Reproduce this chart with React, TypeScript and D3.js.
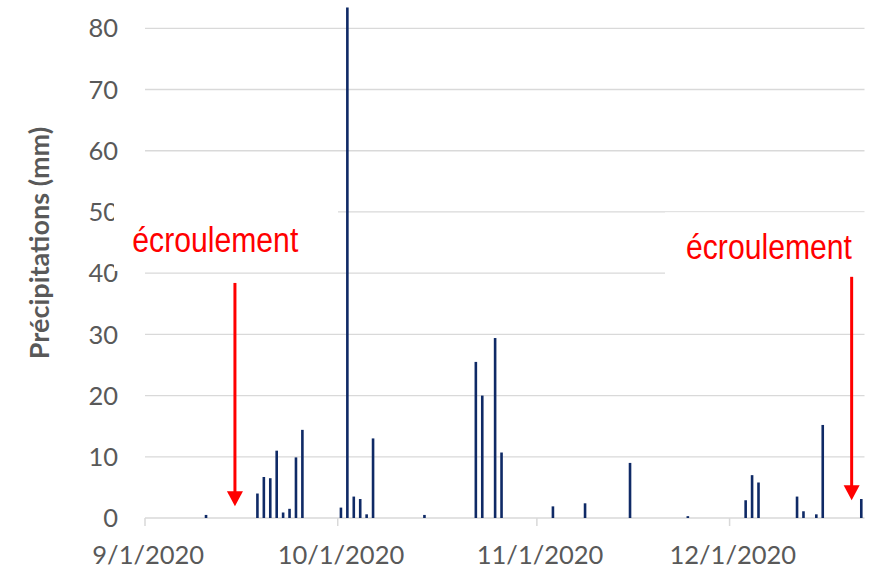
import React, { useEffect, useRef } from 'react';
import * as d3 from 'd3';

// daily rainfall (mm); days without rain are left out
const rainDates = [
    '2020-09-10', '2020-09-18', '2020-09-19', '2020-09-20', '2020-09-21', '2020-09-22',
    '2020-09-23', '2020-09-24', '2020-09-25', '2020-10-01', '2020-10-02', '2020-10-03',
    '2020-10-04', '2020-10-05', '2020-10-06', '2020-10-14', '2020-10-22', '2020-10-23',
    '2020-10-25', '2020-10-26', '2020-11-03', '2020-11-08', '2020-11-15', '2020-11-24',
    '2020-12-03', '2020-12-04', '2020-12-05', '2020-12-11', '2020-12-12', '2020-12-14',
    '2020-12-15', '2020-12-21',
];
const rainMm = [
    0.5, 4.0, 6.7, 6.5, 11.0, 0.9,
    1.5, 9.9, 14.4, 1.7, 83.4, 3.5,
    3.1, 0.6, 13.0, 0.5, 25.5, 20.0,
    29.4, 10.7, 1.9, 2.4, 9.0, 0.3,
    2.9, 7.0, 5.8, 3.5, 1.1, 0.6,
    15.2, 3.1,
];
const yTicks = [0, 10, 20, 30, 40, 50, 60, 70, 80];
const dateRange = ['2020-09-01', '2020-12-22'];

// collapse annotations: arrow x (day), top and tip value, label
const collapseDays = ['2020-09-15', '2020-12-20'];
const collapseTop = [38.4, 39.4];
const collapseTip = [1.9, 2.9];
const collapseLabel = ['écroulement', 'écroulement'];

const parse = (s: string) => new Date(s + 'T00:00:00Z');

const App = () => {
    const chartRef = useRef<HTMLDivElement>(null);

    useEffect(() => {
        const width = 869;
        const height = 569;
        const grey = '#595959';
        const tickFont = 'Lato, "Open Sans", sans-serif';

        const x = d3.scaleUtc()
            .domain(dateRange.map(parse))
            .range([145, 864.5]);
        const y = d3.scaleLinear()
            .domain([0, 80])
            .range([518, 28.3]);
        const day = x(parse('2020-09-02')) - x(parse('2020-09-01'));

        const svg = d3.select(chartRef.current)
            .append('svg')
            .attr('width', width)
            .attr('height', height)
            .style('position', 'absolute')
            .style('left', 0)
            .style('top', 0)
            .style('background', '#fff');

        // gridlines
        svg.append('g')
            .selectAll('line')
            .data(yTicks.filter((t) => t > 0))
            .enter()
            .append('line')
            .attr('x1', 145)
            .attr('x2', 864.5)
            .attr('y1', (d) => y(d))
            .attr('y2', (d) => y(d))
            .attr('stroke', '#d9d9d9')
            .attr('stroke-width', 1.3);

        // y labels
        svg.append('g')
            .selectAll('text')
            .data(yTicks)
            .enter()
            .append('text')
            .attr('x', 118)
            .attr('y', (d) => y(d))
            .attr('dy', '0.36em')
            .attr('text-anchor', 'end')
            .attr('font-family', tickFont)
            .attr('font-size', 25.5)
            .attr('fill', grey)
            .text((d) => d);

        // x axis: line, month ticks, labels centred on the day
        const months = d3.utcMonth.range(parse(dateRange[0]), parse(dateRange[1]));
        const xAxis = svg.append('g');
        xAxis.append('line')
            .attr('x1', 145)
            .attr('x2', 864.5)
            .attr('y1', y(0))
            .attr('y2', y(0))
            .attr('stroke', '#d9d9d9')
            .attr('stroke-width', 1.5);
        xAxis.selectAll('.tick')
            .data(months)
            .enter()
            .append('line')
            .attr('x1', (d) => x(d))
            .attr('x2', (d) => x(d))
            .attr('y1', y(0))
            .attr('y2', y(0) + 8)
            .attr('stroke', '#d9d9d9')
            .attr('stroke-width', 1.5);
        xAxis.selectAll('text')
            .data(months)
            .enter()
            .append('text')
            .attr('x', (d) => x(d) + day / 2)
            .attr('y', 564)
            .attr('text-anchor', 'middle')
            .attr('font-family', tickFont)
            .attr('font-size', 25.5)
            .attr('fill', grey)
            .text(d3.utcFormat('%-m/%-d/%Y'));

        // y title
        svg.append('text')
            .attr('transform', 'translate(49,243) rotate(-90)')
            .attr('text-anchor', 'middle')
            .attr('font-family', tickFont)
            .attr('font-weight', 'bold')
            .attr('font-size', 27)
            .attr('fill', grey)
            .text('Précipitations (mm)');

        // white text boxes sitting over the grid
        svg.append('rect')
            .attr('x', 114).attr('y', 198)
            .attr('width', 224).attr('height', 73)
            .attr('fill', '#fff');
        svg.append('rect')
            .attr('x', 665).attr('y', 212.3)
            .attr('width', 204).attr('height', 64)
            .attr('fill', '#fff');

        // bars
        const rows = rainDates.map((d, i) => ({ date: parse(d), mm: rainMm[i] }));
        const barW = 2.6;
        svg.append('g')
            .selectAll('rect')
            .data(rows)
            .enter()
            .append('rect')
            .attr('x', (d) => x(d.date) + day / 2 - barW / 2)
            .attr('y', (d) => y(d.mm))
            .attr('width', barW)
            .attr('height', (d) => y(0) - y(d.mm))
            .attr('fill', '#0f2a66');

        // annotations
        const notes = collapseDays.map((d, i) => ({
            x: x(parse(d)),
            top: y(collapseTop[i]),
            tip: y(collapseTip[i]),
            label: collapseLabel[i],
        }));
        const labelPos = [[132.3, 251.7], [686, 259.3]];
        const ann = svg.append('g');
        notes.forEach((n, i) => {
            ann.append('line')
                .attr('x1', n.x).attr('x2', n.x)
                .attr('y1', n.top).attr('y2', n.tip - 12)
                .attr('stroke', '#ff0000')
                .attr('stroke-width', 3);
            ann.append('path')
                .attr('d', `M${n.x - 8},${n.tip - 15}L${n.x + 8},${n.tip - 15}L${n.x},${n.tip}Z`)
                .attr('fill', '#ff0000');
            ann.append('text')
                .attr('transform', `translate(${labelPos[i][0]},${labelPos[i][1]}) scale(0.838,1)`)
                .attr('font-family', '"Liberation Sans", Arial, sans-serif')
                .attr('font-size', 36)
                .attr('fill', '#ff0000')
                .text(n.label);
        });

        return () => {
            svg.remove();
        };
    }, []);

    return <div ref={chartRef}></div>;
};

export default App;
